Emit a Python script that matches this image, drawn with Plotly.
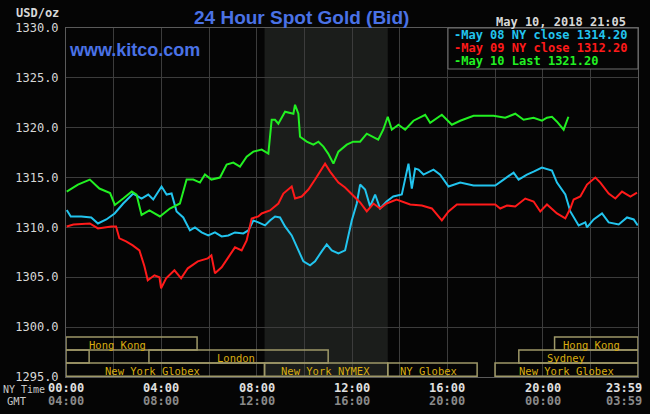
import plotly.graph_objects as go

# ---------------- data ----------------
green_t = [0.03, 0.5, 1.0, 1.4, 1.85, 2.05, 2.4, 2.76, 2.96, 3.17, 3.5, 3.94, 4.36, 4.78, 5.06, 5.34,
           5.62, 5.83, 6.1, 6.46, 6.74, 7.02, 7.3, 7.58, 7.86, 8.21, 8.49, 8.63, 8.77, 8.91, 9.19,
           9.54, 9.61, 9.75, 9.82, 10.1, 10.38, 10.59, 10.8, 11.0, 11.22, 11.43, 11.78, 12.05, 12.34,
           12.62, 13.1, 13.31, 13.5, 13.67, 13.95, 14.23, 14.58, 15.07, 15.28, 15.77, 16.19, 16.54,
           17.1, 17.94, 18.43, 18.85, 19.2, 19.62, 19.97, 20.18, 20.39, 20.6, 20.88, 21.08]
green_v = [1313.6, 1314.3, 1314.8, 1313.9, 1313.45, 1312.25, 1312.9, 1313.6, 1313.3, 1311.25, 1311.7,
           1311.1, 1311.9, 1312.4, 1314.8, 1314.8, 1314.5, 1315.3, 1314.8, 1315.0, 1316.3, 1316.5,
           1316.1, 1317.1, 1317.6, 1317.8, 1317.4, 1320.8, 1320.8, 1320.4, 1321.6, 1321.4, 1322.3,
           1321.4, 1319.1, 1318.6, 1318.3, 1318.6, 1318.1, 1317.4, 1316.4, 1317.6, 1318.3, 1318.6,
           1318.6, 1319.4, 1318.8, 1319.8, 1321.1, 1319.8, 1320.3, 1319.8, 1320.7, 1321.3, 1320.5,
           1321.3, 1320.3, 1320.7, 1321.2, 1321.2, 1321.0, 1321.4, 1320.8, 1321.0, 1320.7, 1321.0,
           1321.1, 1320.6, 1319.8, 1321.1]

cyan_t = [0.03, 0.2, 0.64, 1.06, 1.34, 1.69, 2.04, 2.4, 2.82, 3.17, 3.45, 3.66, 4.01, 4.22, 4.43,
          4.64, 4.92, 5.2, 5.41, 5.69, 5.97, 6.25, 6.53, 6.81, 7.09, 7.44, 7.65, 7.86, 8.07, 8.35,
          8.56, 8.77, 8.98, 9.19, 9.47, 9.75, 9.96, 10.24, 10.45, 10.73, 10.94, 11.15, 11.43, 11.71,
          11.99, 12.2, 12.34, 12.55, 12.76, 12.97, 13.18, 13.45, 13.73, 14.09, 14.23, 14.37, 14.51,
          14.65, 14.79, 15.0, 15.42, 15.7, 16.05, 16.54, 17.1, 18.01, 18.36, 18.78, 18.99, 19.34,
          19.62, 19.97, 20.39, 20.6, 20.95, 21.16, 21.51, 21.79, 21.86, 22.14, 22.49, 22.77, 23.19,
          23.54, 23.82, 23.99]
cyan_v = [1311.75, 1311.1, 1311.1, 1311.0, 1310.4, 1310.8, 1311.4, 1312.4, 1313.4, 1312.9, 1313.3,
          1312.8, 1314.1, 1313.3, 1313.4, 1311.6, 1311.0, 1309.7, 1310.0, 1309.5, 1309.2, 1309.5,
          1309.1, 1309.2, 1309.5, 1309.4, 1309.7, 1310.7, 1310.5, 1310.2, 1310.7, 1311.1, 1311.0,
          1310.1, 1309.2, 1307.7, 1306.6, 1306.2, 1306.6, 1307.6, 1308.3, 1307.7, 1307.4, 1307.7,
          1310.7, 1312.4, 1314.3, 1313.8, 1312.1, 1313.3, 1311.9, 1312.6, 1313.1, 1313.3, 1314.8,
          1316.4, 1313.9, 1315.9, 1315.8, 1315.3, 1315.8, 1315.3, 1314.1, 1314.5, 1314.2, 1314.2,
          1314.8, 1315.5, 1314.8, 1315.3, 1315.6, 1316.0, 1315.7, 1314.5, 1313.3, 1311.6, 1310.2,
          1310.5, 1310.0, 1310.8, 1311.4, 1310.5, 1310.3, 1311.0, 1310.8, 1310.2]

red_t = [0.03, 0.31, 1.0, 1.34, 1.9, 2.1, 2.24, 2.52, 2.8, 3.08, 3.29, 3.43, 3.71, 3.92, 3.99, 4.2,
         4.55, 4.83, 5.11, 5.53, 5.95, 6.1, 6.25, 6.53, 6.81, 7.09, 7.37, 7.58, 7.79, 8.07, 8.21,
         8.56, 8.91, 9.12, 9.47, 9.61, 9.89, 10.17, 10.45, 10.73, 10.87, 11.08, 11.43, 11.71, 11.99,
         12.34, 12.62, 12.9, 13.18, 13.45, 13.87, 14.44, 14.93, 15.35, 15.77, 16.05, 16.4, 17.1,
         18.01, 18.22, 18.5, 18.85, 19.27, 19.62, 19.9, 20.18, 20.6, 20.95, 21.16, 21.3, 21.58,
         21.86, 22.21, 22.42, 22.77, 23.05, 23.33, 23.68, 23.96]
red_v = [1310.1, 1310.3, 1310.4, 1309.9, 1310.1, 1310.1, 1308.9, 1308.6, 1308.2, 1307.7, 1306.1,
         1304.7, 1305.2, 1305.0, 1303.9, 1304.9, 1305.7, 1304.9, 1305.9, 1306.6, 1306.9, 1307.2,
         1305.4, 1306.0, 1307.0, 1308.0, 1307.7, 1308.7, 1310.9, 1311.1, 1311.4, 1311.7, 1312.4,
         1313.4, 1314.1, 1312.9, 1313.1, 1313.8, 1314.8, 1315.8, 1316.4, 1315.6, 1314.5, 1314.0,
         1313.3, 1312.5, 1311.6, 1312.4, 1311.9, 1312.4, 1312.8, 1312.3, 1312.2, 1311.9, 1310.7,
         1311.6, 1312.3, 1312.3, 1312.3, 1311.9, 1312.2, 1312.1, 1312.9, 1312.6, 1311.6, 1312.3,
         1311.4, 1310.9, 1311.9, 1312.8, 1313.1, 1314.3, 1315.0, 1314.5, 1313.4, 1312.9, 1313.6,
         1313.1, 1313.5]

legend_lines = ["-May 08 NY close 1314.20", "-May 09 NY close 1312.20", "-May 10 Last 1321.20"]
series_colors = ["#22c4ee", "#ff1a1a", "#22f022"]

ny_ticks = [0, 4, 8, 12, 16, 20, 24]
ny_labels = ["00:00", "04:00", "08:00", "12:00", "16:00", "20:00", "23:59"]
gmt_labels = ["04:00", "08:00", "12:00", "16:00", "20:00", "00:00", "03:59"]

# sessions: name, start hour, end hour, row (0 top), label hour
sessions = [
    ("Hong Kong", 0.0, 5.5, 0, 2.14),
    ("", 0.0, 0.97, 1, None),
    ("London", 3.48, 11.0, 1, 7.13),
    ("New York Globex", 0.0, 8.33, 2, 3.65),
    ("New York NYMEX", 8.33, 13.5, 2, 10.9),
    ("NY Globex", 13.5, 17.25, 2, 15.2),
    ("New York Globex", 18.0, 24.0, 2, 20.98),
    ("Sydney", 19.0, 24.0, 1, 20.98),
    ("Hong Kong", 20.5, 24.0, 0, 22.03),
]
nymex_shade = (8.33, 13.5)
row_edges = [1299.0, 1297.7, 1296.4, 1295.08]

# ---------------- layout helpers ----------------
W, H = 650, 414
L, R, T, B = 66, 12, 28, 37
PW, PH = W - L - R, H - T - B


def px(x):
    return (x - L) / PW


def py(y):
    return 1 - (y - T) / PH


mono = "DejaVu Sans Mono"
fig = go.Figure()

for t, v, c in [(cyan_t, cyan_v, series_colors[0]), (red_t, red_v, series_colors[1]),
                (green_t, green_v, series_colors[2])]:
    fig.add_trace(go.Scatter(x=t, y=v, mode="lines", line=dict(color=c, width=2),
                             showlegend=False, hoverinfo="skip"))

shapes = []
shapes.append(dict(type="rect", xref="x", yref="paper", x0=nymex_shade[0], x1=nymex_shade[1],
                   y0=0, y1=1, fillcolor="#1b1d1b", line=dict(width=0), layer="below"))
annotations = []
box_col = "#9e9868"
txt_col = "#d8ac10"
for name, s, e, row, lx in sessions:
    shapes.append(dict(type="rect", xref="x", yref="y", x0=s, x1=e, y0=row_edges[row + 1],
                       y1=row_edges[row], line=dict(color=box_col, width=1.5),
                       fillcolor="rgba(0,0,0,0)", layer="above"))
    if name:
        annotations.append(dict(text=name, x=lx, y=(row_edges[row] + row_edges[row + 1]) / 2,
                                xref="x", yref="y", showarrow=False, yshift=-1,
                                font=dict(family=mono, size=10.5, color=txt_col)))

# legend box
shapes.append(dict(type="rect", xref="paper", yref="paper", x0=px(448), x1=1, y0=py(69), y1=1,
                   fillcolor="#050505", line=dict(color="#707070", width=1), layer="above"))
for i, (txt, col) in enumerate(zip(legend_lines, series_colors)):
    annotations.append(dict(text="<b>" + txt + "</b>", x=px(452), y=py(35 + 13 * i), xref="paper",
                            yref="paper", xanchor="left", yanchor="middle", showarrow=False,
                            font=dict(family=mono, size=12, color=col)))

# x tick labels
for tv, nl, gl in zip(ny_ticks, ny_labels, gmt_labels):
    xa = "center"
    xs = 0
    if tv == 24:
        xa, xs = "right", 6
    annotations.append(dict(text="<b>" + nl + "</b>", x=tv, y=py(388), xref="x", yref="paper",
                            xanchor=xa, xshift=xs, yanchor="middle", showarrow=False,
                            font=dict(family=mono, size=12, color="#e0e0e0")))
    annotations.append(dict(text="<b>" + gl + "</b>", x=tv, y=py(401), xref="x", yref="paper",
                            xanchor=xa, xshift=xs, yanchor="middle", showarrow=False,
                            font=dict(family=mono, size=12, color="#8a8a8a")))
annotations.append(dict(text="NY Time", x=px(1), y=py(389), xref="paper", yref="paper",
                        xanchor="left", yanchor="middle", showarrow=False,
                        font=dict(family=mono, size=10, color="#c8c8c8")))
annotations.append(dict(text="GMT", x=px(17), y=py(401), xref="paper", yref="paper",
                        xanchor="center", yanchor="middle", showarrow=False,
                        font=dict(family=mono, size=10.5, color="#c8c8c8")))
annotations.append(dict(text="<b>USD/oz</b>", x=px(61), y=py(13), xref="paper", yref="paper",
                        xanchor="right", yanchor="middle", showarrow=False,
                        font=dict(family=mono, size=12, color="#d8d8d8")))
annotations.append(dict(text="<b>24 Hour Spot Gold (Bid)</b>", x=px(301), y=py(17), xref="paper",
                        yref="paper", xanchor="center", yanchor="middle", showarrow=False,
                        font=dict(family="Liberation Sans", size=19, color="#4a72e6")))
annotations.append(dict(text="<b>www.kitco.com</b>", x=px(67), y=py(50), xref="paper",
                        yref="paper", xanchor="left", yanchor="middle", showarrow=False,
                        font=dict(family="Liberation Sans", size=18, color="#4a72e6")))
annotations.append(dict(text="<b>May 10, 2018 21:05</b>", x=px(628), y=py(22), xref="paper",
                        yref="paper", xanchor="right", yanchor="middle", showarrow=False,
                        font=dict(family=mono, size=12, color="#d8d8d8")))

fig.update_layout(
    width=W, height=H, margin=dict(l=L, r=R, t=T, b=B),
    paper_bgcolor="#050505", plot_bgcolor="#050505",
    shapes=shapes, annotations=annotations, showlegend=False,
    xaxis=dict(range=[0, 24], dtick=2, tick0=0, showgrid=True, gridcolor="#3c3c3c", gridwidth=1,
               showticklabels=False, zeroline=False, showline=True, linecolor="#5a5a5a",
               mirror=True, ticks=""),
    yaxis=dict(range=[1295, 1330], dtick=5, tick0=1295, showgrid=True, gridcolor="#3c3c3c",
               tickformat=".1f", tickfont=dict(family=mono, size=12, color="#d8d8d8"),
               zeroline=False, showline=True, linecolor="#5a5a5a", mirror=True, ticks="",
               ticklabelstandoff=4),
)
fig.write_html("out.html")
